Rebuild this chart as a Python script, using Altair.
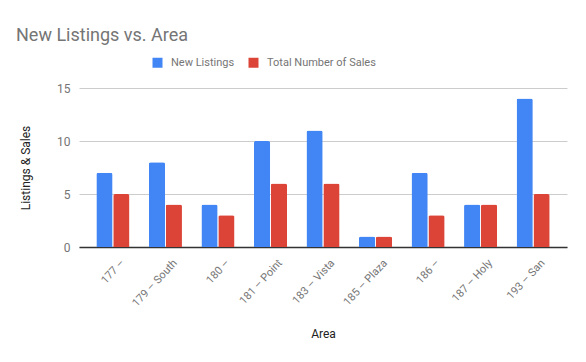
import altair as alt
import pandas as pd

areas = ["177 –", "179 – South", "180 –", "181 – Point", "183 – Vista",
         "185 – Plaza", "186 –", "187 – Holy", "193 – San"]
new_listings = [7, 8, 4, 10, 11, 1, 7, 4, 14]
total_sales = [5, 4, 3, 6, 6, 1, 3, 4, 5]
series_names = ["New Listings", "Total Number of Sales"]
series_colors = ["#4285F4", "#DB4437"]
y_ticks = [0, 5, 10, 15]

rows = []
for a, n, s in zip(areas, new_listings, total_sales):
    rows.append({"Area": a, "Series": series_names[0], "Value": n})
    rows.append({"Area": a, "Series": series_names[1], "Value": s})
df = pd.DataFrame(rows)

FONT = "Roboto"

chart = alt.Chart(df).mark_bar(cornerRadiusTopLeft=2, cornerRadiusTopRight=2).encode(
    x=alt.X("Area:N", sort=areas,
            scale=alt.Scale(paddingInner=0.37, paddingOuter=0.33),
            axis=alt.Axis(title="Area", labelAngle=-47, labelAlign="right",
                          labelBaseline="middle", ticks=False, domain=True,
                          domainColor="#333333", domainWidth=1.5,
                          labelPadding=14, labelOffset=10, labelFont=FONT, labelFontSize=11,
                          labelColor="#757575", titleFont=FONT, titleFontSize=12,
                          titleFontWeight="normal", titleColor="#222222",
                          titlePadding=20, grid=False)),
    xOffset=alt.XOffset("Series:N", sort=series_names,
                        scale=alt.Scale(paddingInner=0.04, paddingOuter=0)),
    y=alt.Y("Value:Q", scale=alt.Scale(domain=[0, 15], nice=False),
            axis=alt.Axis(title="Listings & Sales", values=y_ticks, ticks=False,
                          domain=False, gridColor="#cccccc", labelPadding=9,
                          labelFont=FONT, labelFontSize=12, labelColor="#757575",
                          titleFont=FONT, titleFontSize=12, titleFontWeight="normal",
                          titleColor="#222222", titlePadding=24)),
    color=alt.Color("Series:N", sort=series_names,
                    scale=alt.Scale(domain=series_names, range=series_colors),
                    legend=alt.Legend(title=None, orient="none", direction="horizontal",
                                      legendX=73, legendY=-31, symbolType="square",
                                      symbolSize=100, symbolStrokeWidth=0,
                                      labelFont=FONT, labelFontSize=11,
                                      labelColor="#757575", labelOffset=8,
                                      columnPadding=13, padding=0)),
).properties(
    width=488,
    height=159,
    padding={"left": 71, "top": 80, "right": 11, "bottom": 107},
    autosize=alt.AutoSizeParams(type="none"),
    title=alt.TitleParams("New Listings vs. Area", anchor="start", frame="group",
                          dx=-63, fontSize=18, font=FONT, fontWeight="normal",
                          color="#757575", offset=12),
).configure_view(stroke=None)

chart.save("out.html", embed_options={"renderer": "svg", "actions": False})
